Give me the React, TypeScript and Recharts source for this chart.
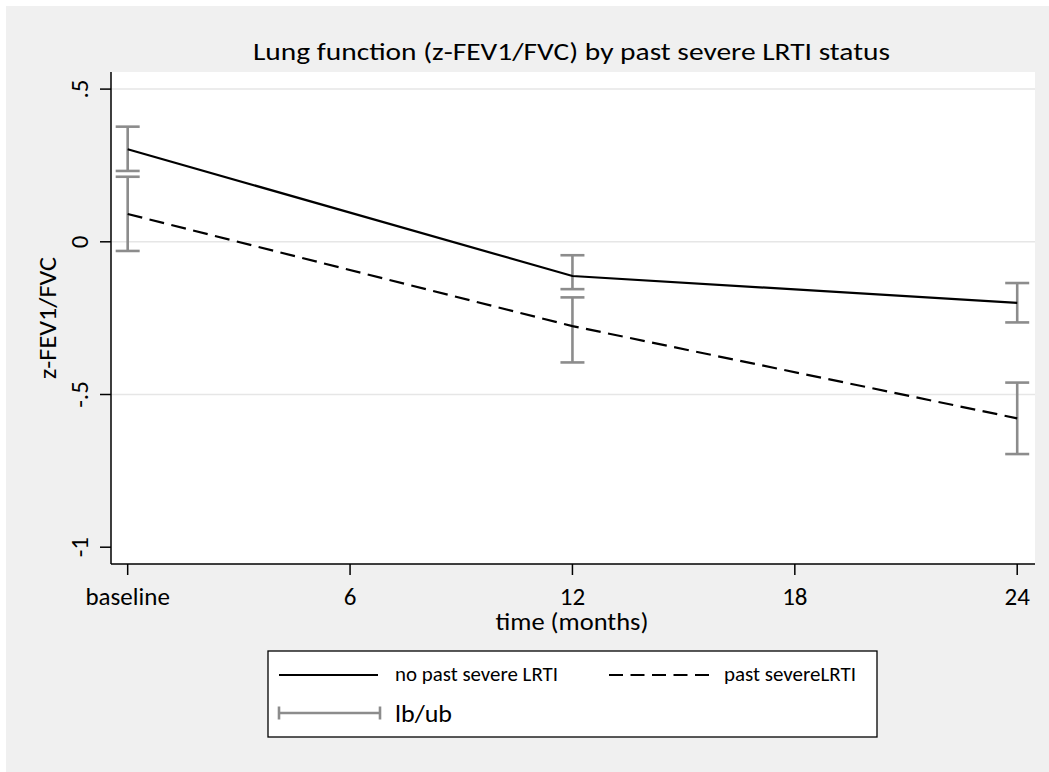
import React from 'react';
import { LineChart, Line, XAxis, YAxis, CartesianGrid, ErrorBar } from 'recharts';

const months = [0, 12, 24];
const noPastMean = [0.303, -0.112, -0.2];
const noPastLb = [0.232, -0.155, -0.264];
const noPastUb = [0.377, -0.044, -0.135];
const pastMean = [0.091, -0.276, -0.578];
const pastLb = [-0.03, -0.395, -0.695];
const pastUb = [0.213, -0.182, -0.461];

const xTicks = [0, 6, 12, 18, 24];
const xTickLabels = ['baseline', '6', '12', '18', '24'];
const yTicks = [-1, -0.5, 0, 0.5];
const yTickLabels = ['-1', '-.5', '0', '.5'];
const gridValues = [-0.5, 0, 0.5];

const titleText = 'Lung function (z-FEV1/FVC) by past severe LRTI status';
const xTitle = 'time (months)';
const yTitle = 'z-FEV1/FVC';
const seriesNames = ['no past severe LRTI', 'past severeLRTI'];
const ciName = 'lb/ub';

const rows = months.map((m, i) => ({
  m,
  noPast: noPastMean[i],
  noPastErr: [noPastMean[i] - noPastLb[i], noPastUb[i] - noPastMean[i]],
  past: pastMean[i],
  pastErr: [pastMean[i] - pastLb[i], pastUb[i] - pastMean[i]],
}));

const FONT = "Carlito, Lato, 'Open Sans', sans-serif";
const GRAY = '#8c8c8c';

const XTick = (props: any) => {
  const { x, y, payload } = props;
  const idx = xTicks.indexOf(payload.value);
  return (
    <text x={x} y={y} dy={30} textAnchor="middle" fontFamily={FONT} fontSize={25} fill="#000">
      {idx >= 0 ? xTickLabels[idx] : payload.value}
    </text>
  );
};

const YTick = (props: any) => {
  const { x, y, payload } = props;
  const idx = yTicks.indexOf(payload.value);
  return (
    <text
      x={x}
      y={y}
      transform={`rotate(-90, ${x}, ${y})`}
      textAnchor="middle"
      fontFamily={FONT}
      fontSize={25}
      fill="#000"
    >
      {idx >= 0 ? yTickLabels[idx] : payload.value}
    </text>
  );
};

export default function App() {
  return (
    <div style={{ position: 'absolute', left: 0, top: 0, width: 1049, height: 772, background: '#fff', overflow: 'hidden' }}>
      <div style={{ position: 'absolute', left: 6, top: 6, width: 1043, height: 766, background: '#f0f0f0' }} />
      <div style={{ position: 'absolute', left: 0, top: 0 }}>
        <LineChart width={1049} height={772} data={rows} margin={{ top: 72, right: 14, left: 0, bottom: 178 }}>
          <CartesianGrid
            fill="#ffffff"
            stroke="#e6e6e6"
            strokeWidth={1.5}
            vertical={false}
            horizontalValues={gridValues}
          />
          <XAxis
            dataKey="m"
            type="number"
            domain={[-0.45, 24.48]}
            ticks={xTicks}
            allowDataOverflow
            height={30}
            tickSize={11}
            tickMargin={0}
            axisLine={{ stroke: '#000', strokeWidth: 1.5 }}
            tickLine={{ stroke: '#000', strokeWidth: 1.5 }}
            tick={<XTick />}
            interval={0}
          />
          <YAxis
            type="number"
            domain={[-1.055, 0.556]}
            ticks={yTicks}
            allowDataOverflow
            width={111}
            tickSize={11}
            tickMargin={12}
            axisLine={{ stroke: '#000', strokeWidth: 1.5 }}
            tickLine={{ stroke: '#000', strokeWidth: 1.5 }}
            tick={<YTick />}
            interval={0}
          />
          <Line
            dataKey="noPast"
            stroke="#000"
            strokeWidth={2.2}
            dot={false}
            activeDot={false}
            isAnimationActive={false}
          >
            <ErrorBar dataKey="noPastErr" width={12} stroke={GRAY} strokeWidth={2.6} direction="y" isAnimationActive={false} />
          </Line>
          <Line
            dataKey="past"
            stroke="#000"
            strokeWidth={2.2}
            strokeDasharray="15 7.5"
            dot={false}
            activeDot={false}
            isAnimationActive={false}
          >
            <ErrorBar dataKey="pastErr" width={12} stroke={GRAY} strokeWidth={2.6} direction="y" isAnimationActive={false} />
          </Line>
        </LineChart>
      </div>
      <svg
        width={1049}
        height={772}
        style={{ position: 'absolute', left: 0, top: 0, pointerEvents: 'none' }}
      >
        <text x={253} y={60} textLength={637} lengthAdjust="spacingAndGlyphs" fontFamily={FONT} fontSize={24} fill="#000">
          {titleText}
        </text>
        <text x={572} y={630} textAnchor="middle" textLength={153} lengthAdjust="spacingAndGlyphs" fontFamily={FONT} fontSize={24} fill="#000">
          {xTitle}
        </text>
        <text
          x={56}
          y={318}
          transform="rotate(-90, 56, 318)"
          textAnchor="middle"
          textLength={122}
          lengthAdjust="spacingAndGlyphs"
          fontFamily={FONT}
          fontSize={24}
          fill="#000"
        >
          {yTitle}
        </text>
        <rect x={268} y={651} width={609} height={86} fill="#fff" stroke="#000" strokeWidth={1.3} />
        <line x1={279} y1={675} x2={378} y2={675} stroke="#000" strokeWidth={2.2} />
        <text x={395} y={681} textLength={163} lengthAdjust="spacingAndGlyphs" fontFamily={FONT} fontSize={19.5} fill="#000">
          {seriesNames[0]}
        </text>
        <line x1={609} y1={675} x2={709} y2={675} stroke="#000" strokeWidth={2.2} strokeDasharray="14 7.5" />
        <text x={724} y={681} textLength={132} lengthAdjust="spacingAndGlyphs" fontFamily={FONT} fontSize={19.5} fill="#000">
          {seriesNames[1]}
        </text>
        <line x1={279} y1={713} x2={380} y2={713} stroke={GRAY} strokeWidth={2.6} />
        <line x1={279} y1={706.5} x2={279} y2={719.5} stroke={GRAY} strokeWidth={2.6} />
        <line x1={380} y1={706.5} x2={380} y2={719.5} stroke={GRAY} strokeWidth={2.6} />
        <text x={395} y={722} textLength={57} lengthAdjust="spacingAndGlyphs" fontFamily={FONT} fontSize={24} fill="#000">
          {ciName}
        </text>
      </svg>
    </div>
  );
}
